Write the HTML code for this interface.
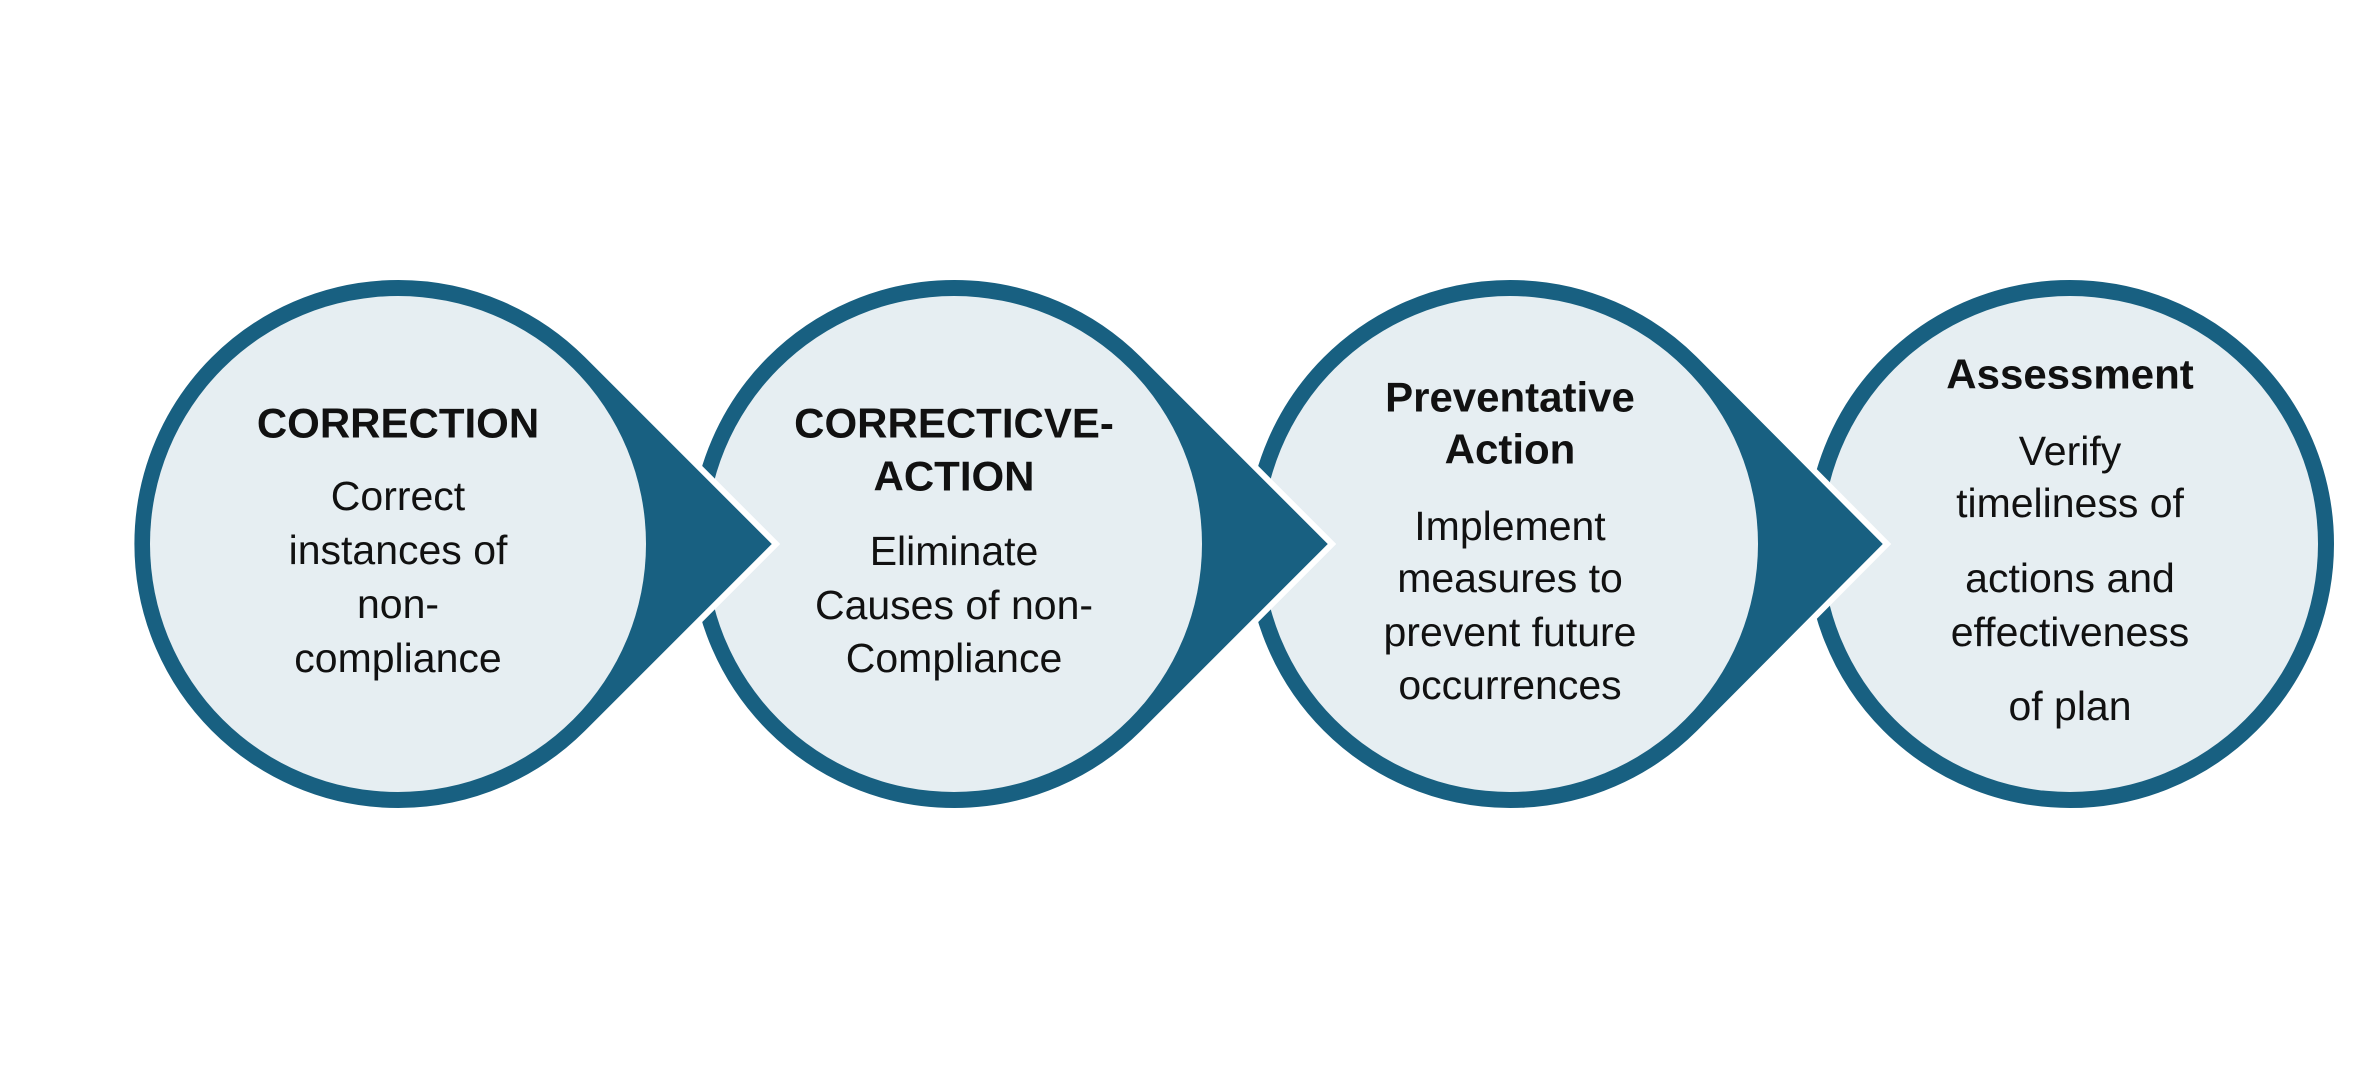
<!DOCTYPE html>
<html><head><meta charset="utf-8"><style>
html,body{margin:0;padding:0;background:#fff;}
svg{display:block;}
text{font-family:"Liberation Sans",sans-serif;fill:#111;text-anchor:middle;dominant-baseline:central;}
.t{font-weight:bold;font-size:42px;}
.b{font-size:41px;}
</style></head><body>
<svg width="2355" height="1086" viewBox="0 0 2355 1086">
<circle cx="2070" cy="544" r="267" fill="#186081" stroke="#fff" stroke-width="6"/>
<circle cx="2070" cy="544" r="248" fill="#e6eef2"/>

<path d="M1699,355 L1887,544 L1699,733 A267 267 0 1 1 1699,355 Z" fill="#186081" stroke="#fff" stroke-width="6"/>
<circle cx="1510" cy="544" r="248" fill="#e6eef2"/>

<path d="M1143,355 L1332,544 L1143,733 A267 267 0 1 1 1143,355 Z" fill="#186081" stroke="#fff" stroke-width="6"/>
<circle cx="954" cy="544" r="248" fill="#e6eef2"/>

<path d="M587,355 L776,544 L587,733 A267 267 0 1 1 587,355 Z" fill="#186081" stroke="#fff" stroke-width="6"/>
<circle cx="398" cy="544" r="248" fill="#e6eef2"/>

<text class="t" x="398" y="423">CORRECTION</text>
<text class="b" x="398" y="496">Correct</text>
<text class="b" x="398" y="550">instances of</text>
<text class="b" x="398" y="604">non-</text>
<text class="b" x="398" y="658">compliance</text>

<text class="t" x="954" y="423">CORRECTICVE-</text>
<text class="t" x="954" y="476">ACTION</text>
<text class="b" x="954" y="551">Eliminate</text>
<text class="b" x="954" y="605">Causes of non-</text>
<text class="b" x="954" y="658">Compliance</text>

<text class="t" x="1510" y="397">Preventative</text>
<text class="t" x="1510" y="449">Action</text>
<text class="b" x="1510" y="526">Implement</text>
<text class="b" x="1510" y="578">measures to</text>
<text class="b" x="1510" y="632">prevent future</text>
<text class="b" x="1510" y="685">occurrences</text>

<text class="t" x="2070" y="374">Assessment</text>
<text class="b" x="2070" y="451">Verify</text>
<text class="b" x="2070" y="503">timeliness of</text>
<text class="b" x="2070" y="578">actions and</text>
<text class="b" x="2070" y="632">effectiveness</text>
<text class="b" x="2070" y="706">of plan</text>
</svg>
</body></html>
